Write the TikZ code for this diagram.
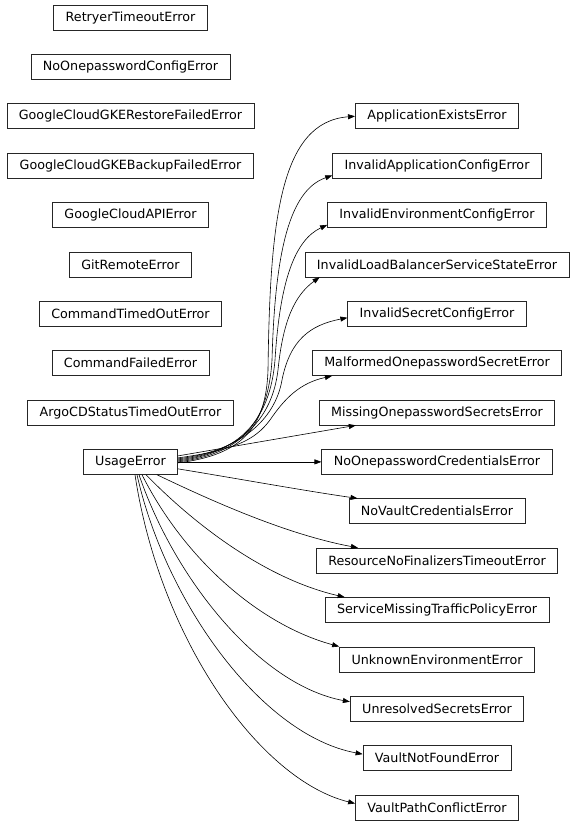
\documentclass[tikz,border=0pt]{standalone}
\usepackage{fontspec}
\setmainfont{DejaVu Sans}
\usetikzlibrary{arrows.meta}
\begin{document}
\begin{tikzpicture}[x=1pt,y=-1pt,
  cls/.style={draw=black!85, line width=0.7pt, font=\fontsize{12.7}{15}\selectfont,
    inner xsep=12pt, inner ysep=0pt, minimum height=25pt, anchor=center},
  edge/.style={-{Triangle[length=7pt,width=5pt]}, line width=0.6pt}]
\useasboundingbox (0,0) rectangle (576,825);
% left column
\node[cls] (rte) at (130.5,17.5) {RetryerTimeoutError};
\node[cls] (nopc) at (130.5,66.875) {NoOnepasswordConfigError};
\node[cls] (gkr) at (130.5,116.25) {GoogleCloudGKERestoreFailedError};
\node[cls] (gkb) at (130.5,165.625) {GoogleCloudGKEBackupFailedError};
\node[cls] (gca) at (130.5,215) {GoogleCloudAPIError};
\node[cls] (gre) at (130.5,264.375) {GitRemoteError};
\node[cls] (cto) at (130.5,313.75) {CommandTimedOutError};
\node[cls] (cfe) at (130.5,363.125) {CommandFailedError};
\node[cls] (argo) at (130.5,412.5) {ArgoCDStatusTimedOutError};
\node[cls] (u) at (130.5,461.875) {UsageError};
% right column
\node[cls] (app) at (437,116.25) {ApplicationExistsError};
\node[cls] (iac) at (437,165.625) {InvalidApplicationConfigError};
\node[cls] (iec) at (437,215) {InvalidEnvironmentConfigError};
\node[cls] (lb) at (437,264.375) {InvalidLoadBalancerServiceStateError};
\node[cls] (isc) at (437,313.75) {InvalidSecretConfigError};
\node[cls] (mal) at (437,363.125) {MalformedOnepasswordSecretError};
\node[cls] (miss) at (437,412.5) {MissingOnepasswordSecretsError};
\node[cls] (noc) at (437,461.875) {NoOnepasswordCredentialsError};
\node[cls] (nov) at (437,511.25) {NoVaultCredentialsError};
\node[cls] (res) at (437,560.625) {ResourceNoFinalizersTimeoutError};
\node[cls] (svc) at (437,610) {ServiceMissingTrafficPolicyError};
\node[cls] (unk) at (437,659.375) {UnknownEnvironmentError};
\node[cls] (unr) at (437,708.75) {UnresolvedSecretsError};
\node[cls] (vnf) at (437,758.125) {VaultNotFoundError};
\node[cls] (vpc) at (437,807.5) {VaultPathConflictError};
% edges upward
\draw[edge] ([yshift=-1pt]u.east) .. controls (240,455) and (266,430) .. (268,370)
  .. controls (270,220) and (280,122) .. (app.west);
\draw[edge] ([yshift=0pt]u.east) .. controls (240,454) and (268,425) .. (272,360)
  .. controls (275,250) and (290,190) .. ([yshift=3pt]iac.south west);
\draw[edge] ([yshift=1pt]u.east) .. controls (240,453) and (270,420) .. (275,360)
  .. controls (280,280) and (295,240) .. ([yshift=3pt]iec.south west);
\draw[edge] ([yshift=2pt]u.east) .. controls (240,452) and (272,420) .. (278,370)
  .. controls (283,320) and (295,295) .. ([xshift=15pt]lb.south west);
\draw[edge] ([yshift=3pt]u.east) .. controls (240,451) and (275,420) .. (282,380)
  .. controls (290,340) and (310,325) .. ([yshift=-4pt]isc.west);
\draw[edge] ([yshift=4pt]u.east) .. controls (235,450) and (255,440) .. (270,420)
  .. controls (285,398) and (300,383) .. ([xshift=20pt]mal.south west);
\draw[edge] ([yshift=6pt]u.east) -- ([xshift=37pt]miss.south west);
\draw[edge] (u.east) -- (noc.west);
% edges downward
\draw[edge] ([yshift=-7pt]u.east) .. controls (240,479) and (300,490) .. ([xshift=9pt]nov.north west);
\draw[edge] ([xshift=26.5pt]u.south) .. controls (220,505) and (290,535) .. ([xshift=42pt]res.north west);
\draw[edge] ([xshift=15.5pt]u.south) .. controls (200,530) and (270,580) .. ([xshift=20pt]svc.north west);
\draw[edge] ([xshift=11.5pt]u.south) .. controls (185,560) and (260,625) .. (unk.north west);
\draw[edge] ([xshift=8.5pt]u.south) .. controls (175,580) and (260,685) .. ([yshift=7pt]unr.west);
\draw[edge] ([xshift=6.5pt]u.south) .. controls (165,600) and (260,735) .. ([yshift=4pt]vnf.west);
\draw[edge] ([xshift=4.5pt]u.south) .. controls (160,640) and (260,780) .. ([yshift=4pt]vpc.west);
\end{tikzpicture}
\end{document}
